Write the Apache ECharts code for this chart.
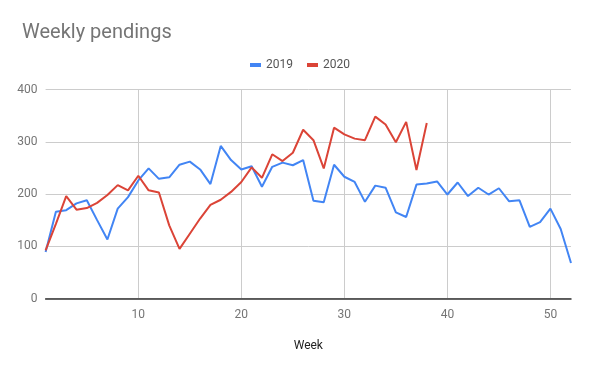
<!DOCTYPE html>
<html><head><meta charset="utf-8">
<script src="https://cdn.jsdelivr.net/npm/echarts@6/dist/echarts.min.js"></script>
<style>html,body{margin:0;padding:0;background:#fff}#c{width:600px;height:371px}</style>
</head><body><div id="c"></div>
<script>
const weeks = Array.from({length: 52}, (_, i) => String(i + 1));
const s2019 = [89,166,169,182,188,150,113,172,194,226,249,229,232,256,262,247,219,292,265,247,253,214,252,260,255,265,187,184,256,233,223,185,216,212,165,156,218,220,224,199,222,196,212,199,211,186,188,137,146,172,133,68];
const s2020 = [92,143,196,170,173,183,198,217,207,235,207,203,140,95,124,153,179,189,204,223,251,231,276,263,279,323,303,249,327,314,306,303,348,333,299,338,246,336];
const yTicks = [0,100,200,300,400];

const chart = echarts.init(document.getElementById('c'));
const showTick = (i) => (i + 1) % 10 === 0;
chart.setOption({
  animation: false,
  textStyle: {fontFamily: 'Roboto'},
  title: {text: 'Weekly pendings', left: 17, top: 18, textStyle: {fontSize: 20, fontWeight: 'normal', color: '#757575', fontFamily: 'Roboto'}},
  legend: {top: 54, left: 'center', itemWidth: 11, itemHeight: 4, itemGap: 14, icon: 'rect',
    textStyle: {color: '#555', fontSize: 12}, data: ['2019','2020']},
  grid: {left: 45.6, right: 29, top: 89.5, bottom: 72.5},
  xAxis: {type: 'category', data: weeks, boundaryGap: false,
    name: 'Week', nameLocation: 'middle', nameGap: 41, nameTextStyle: {color: '#222', fontSize: 12},
    axisLine: {lineStyle: {color: '#333', width: 1.5}},
    axisTick: {show: false},
    axisLabel: {interval: (i) => showTick(i), color: '#757575', fontSize: 12, margin: 10},
    splitLine: {show: true, interval: (i) => showTick(i), lineStyle: {color: '#ccc'}}},
  yAxis: {type: 'value', min: yTicks[0], max: yTicks[yTicks.length-1], interval: 100,
    axisLine: {show: false}, axisTick: {show: false},
    axisLabel: {color: '#757575', fontSize: 12, margin: 8},
    splitLine: {lineStyle: {color: '#ccc'}}},
  series: [
    {name: '2019', type: 'line', data: s2019, showSymbol: false, symbol: 'none', lineStyle: {width: 2, color: '#4285F4'}, itemStyle: {color: '#4285F4'}},
    {name: '2020', type: 'line', data: s2020, showSymbol: false, symbol: 'none', lineStyle: {width: 2, color: '#DB4437'}, itemStyle: {color: '#DB4437'}}
  ]
});
</script></body></html>
